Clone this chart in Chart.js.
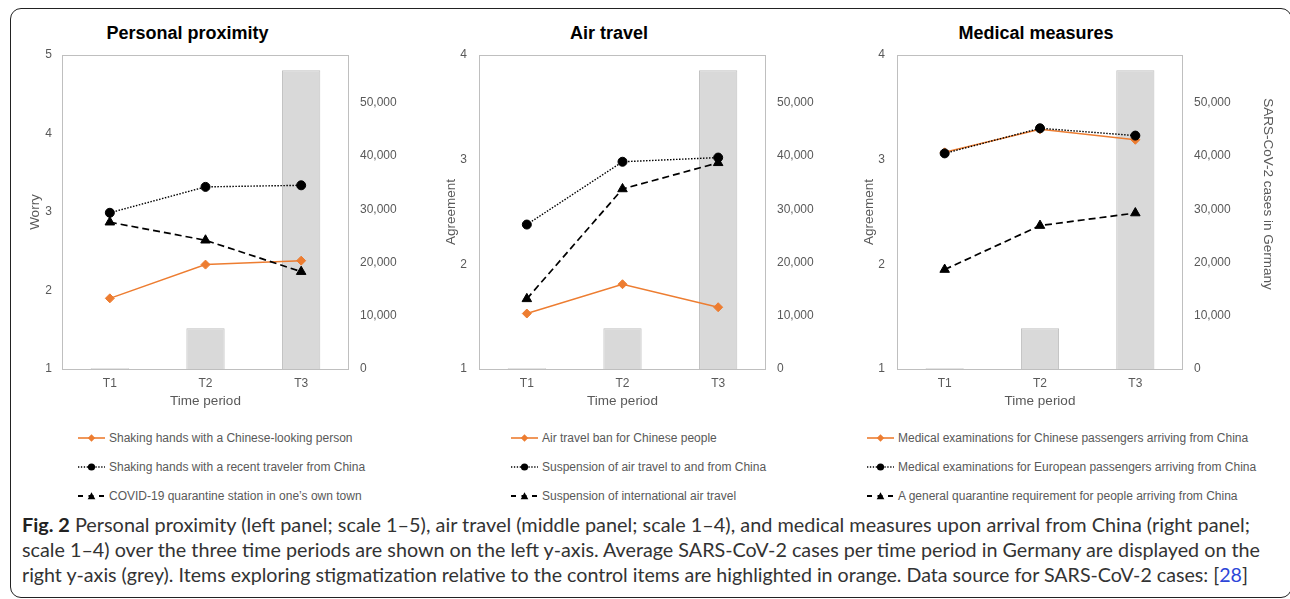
<!DOCTYPE html>
<html><head><meta charset="utf-8">
<script src="https://cdn.jsdelivr.net/npm/chart.js@4.4.0/dist/chart.umd.min.js"></script>
<style>
html,body{margin:0;padding:0;background:#fff;}
body{width:1290px;height:599px;position:relative;overflow:hidden;font-family:"Liberation Sans",Arial,sans-serif;}
#frame{position:absolute;left:10px;top:8px;width:1282px;height:590px;border:1.5px solid #222;border-radius:11px;box-sizing:border-box;}
.ptitle{position:absolute;top:21px;font-weight:bold;font-size:18px;line-height:24px;color:#000;transform:translateX(-50%);white-space:nowrap;}
canvas.cv{position:absolute;top:35px;}
.lrow{position:absolute;height:16px;line-height:16px;font-size:12px;color:#595959;white-space:nowrap;}
.lrow svg{position:absolute;left:0;top:3px;}
.lrow span{position:absolute;top:0;}
#y2title{position:absolute;left:1268px;top:194px;transform:translate(-50%,-50%);writing-mode:vertical-rl;font-size:13.5px;color:#595959;white-space:nowrap;}
.cap{position:absolute;left:22px;font-family:Lato,"Open Sans",sans-serif;font-size:19px;line-height:25px;color:#333;white-space:nowrap;transform-origin:0 50%;display:inline-block;}
.cap b{color:#222;}
.cap .ref{color:#2d46d8;}
</style></head>
<body>
<div id="frame"></div>
<div class="ptitle" style="left:187.5px">Personal proximity</div>
<div class="ptitle" style="left:609px">Air travel</div>
<div class="ptitle" style="left:1036px">Medical measures</div>
<canvas id="c1" class="cv" width="406" height="374" style="left:23px"></canvas>
<canvas id="c2" class="cv" width="407" height="374" style="left:439px"></canvas>
<canvas id="c3" class="cv" width="406" height="374" style="left:857px"></canvas>
<div id="y2title">SARS-CoV-2 cases in Germany</div>
<div id="legends"></div>
<div class="cap" style="top:512px" data-w="1228"><b>Fig. 2</b> Personal proximity (left panel; scale 1–5), air travel (middle panel; scale 1–4), and medical measures upon arrival from China (right panel;</div>
<div class="cap" style="top:537px" data-w="1238">scale 1–4) over the three time periods are shown on the left y-axis. Average SARS-CoV-2 cases per time period in Germany are displayed on the</div>
<div class="cap" style="top:562px" data-w="1226">right y-axis (grey). Items exploring stigmatization relative to the control items are highlighted in orange. Data source for SARS-CoV-2 cases: [<span class="ref">28</span>]</div>
<script>
// ---- data ----
const periods = ['T1', 'T2', 'T3'];
const cases = [120, 7640, 56150];
const caseTicks = [0, 10000, 20000, 30000, 40000, 50000];
const caseAxisMax = 59000;

const proximityLabels = ['Shaking hands with a Chinese-looking person', 'Shaking hands with a recent traveler from China', 'COVID-19 quarantine station in one\u2019s own town'];
const proximityStigma = [1.90, 2.33, 2.38];
const proximityTraveler = [2.99, 3.32, 3.34];
const proximityQuarantine = [2.87, 2.64, 2.24];

const airLabels = ['Air travel ban for Chinese people', 'Suspension of air travel to and from China', 'Suspension of international air travel'];
const airStigma = [1.53, 1.81, 1.59];
const airSuspendChina = [2.38, 2.98, 3.02];
const airSuspendIntl = [1.67, 2.72, 2.97];

const medicalLabels = ['Medical examinations for Chinese passengers arriving from China', 'Medical examinations for European passengers arriving from China', 'A general quarantine requirement for people arriving from China'];
const medicalChinese = [3.07, 3.29, 3.19];
const medicalEuropean = [3.06, 3.30, 3.23];
const medicalQuarantine = [1.95, 2.37, 2.49];

// ---- chart ----
const GREY = '#595959';
const ORANGE = '#ed7d31';

const framePlugin = {
  id: 'frame',
  beforeDatasetsDraw(chart) {
    const a = chart.chartArea, ctx = chart.ctx;
    ctx.save();
    ctx.strokeStyle = '#bfbfbf';
    ctx.lineWidth = 1;
    ctx.strokeRect(Math.round(a.left) + 0.5, Math.round(a.top) + 0.5, Math.round(a.right - a.left) - 1, Math.round(a.bottom - a.top));
    ctx.restore();
  }
};

function makeChart(id, labels, s1, s2, s3, yMax, yTitle, leftW, tickPad) {
  return new Chart(document.getElementById(id), {
    type: 'bar',
    data: {
      labels: periods,
      datasets: [
        { type: 'line', label: labels[0], data: s1, yAxisID: 'y', order: 3,
          borderColor: ORANGE, backgroundColor: ORANGE, borderWidth: 1.5,
          pointStyle: 'rectRot', pointRadius: 4.5, pointBorderWidth: 1, pointBorderColor: ORANGE, pointBackgroundColor: ORANGE },
        { type: 'line', label: labels[1], data: s2, yAxisID: 'y', order: 2,
          borderColor: '#000', backgroundColor: '#000', borderWidth: 1.4, borderDash: [1.5, 1.5],
          pointStyle: 'circle', pointRadius: 4.5, pointBorderWidth: 1, pointBorderColor: '#000', pointBackgroundColor: '#000' },
        { type: 'line', label: labels[2], data: s3, yAxisID: 'y', order: 1,
          borderColor: '#000', backgroundColor: '#000', borderWidth: 1.7, borderDash: [7, 4],
          pointStyle: 'triangle', pointRadius: 5.5, pointBorderWidth: 1, pointBorderColor: '#000', pointBackgroundColor: '#000' },
        { type: 'bar', label: 'SARS-CoV-2 cases in Germany', data: cases, yAxisID: 'y2', order: 10,
          backgroundColor: '#d9d9d9', borderColor: '#bfbfbf', borderWidth: 1,
          barPercentage: 0.4, categoryPercentage: 1 }
      ]
    },
    options: {
      responsive: false, animation: false, devicePixelRatio: 1,
      layout: { padding: { top: 20, bottom: 0, left: 0, right: 0 } },
      plugins: { legend: { display: false }, tooltip: { enabled: false }, title: { display: false } },
      scales: {
        x: {
          grid: { display: false, drawTicks: false }, border: { display: false },
          ticks: { color: GREY, font: { family: 'Liberation Sans', size: 12 }, padding: 7 },
          title: { display: true, text: 'Time period', color: GREY, font: { family: 'Liberation Sans', size: 13.5 }, padding: { top: 0, bottom: 0 } },
          afterFit(s) { s.height = 40; }
        },
        y: {
          position: 'left', min: 1, max: yMax,
          grid: { display: false, drawTicks: false }, border: { display: false },
          ticks: { stepSize: 1, color: GREY, font: { family: 'Liberation Sans', size: 12 }, padding: tickPad },
          title: { display: true, text: yTitle, color: GREY, font: { family: 'Liberation Sans', size: 13.5 }, padding: { top: 4, bottom: 0 } },
          afterFit(s) { s.width = leftW; }
        },
        y2: {
          position: 'right', min: 0, max: caseAxisMax,
          grid: { display: false, drawTicks: false }, border: { display: false },
          ticks: { color: GREY, font: { family: 'Liberation Sans', size: 12 }, padding: 11,
                   callback: v => Number(v).toLocaleString('en-US') },
          afterBuildTicks(s) { s.ticks = caseTicks.map(v => ({ value: v })); },
          afterFit(s) { s.width = 80; }
        }
      }
    },
    plugins: [framePlugin]
  });
}

makeChart('c1', proximityLabels, proximityStigma, proximityTraveler, proximityQuarantine, 5, 'Worry', 39, 10);
makeChart('c2', airLabels, airStigma, airSuspendChina, airSuspendIntl, 4, 'Agreement', 40, 12);
makeChart('c3', medicalLabels, medicalChinese, medicalEuropean, medicalQuarantine, 4, 'Agreement', 40, 12);

// ---- legends (HTML) ----
const legendCols = [
  { x: 78, labels: proximityLabels },
  { x: 511, labels: airLabels },
  { x: 867, labels: medicalLabels }
];
const rowY = [438, 467, 495.5];
function sample(i) {
  if (i === 0) {
    return `<svg width="28" height="10"><line x1="0" y1="5" x2="27" y2="5" stroke="${ORANGE}" stroke-width="1.6"/><polygon points="13.5,1.3 17.2,5 13.5,8.7 9.8,5" fill="${ORANGE}"/></svg>`;
  } else if (i === 1) {
    return `<svg width="28" height="10"><line x1="0" y1="5" x2="27" y2="5" stroke="#000" stroke-width="1.3" stroke-dasharray="1.3,1.6"/><circle cx="13.5" cy="5" r="3.6" fill="#000"/></svg>`;
  }
  return `<svg width="28" height="10"><line x1="0" y1="5" x2="27" y2="5" stroke="#000" stroke-width="1.8" stroke-dasharray="5,5.5"/><polygon points="13.5,1.2 17.3,8.3 9.7,8.3" fill="#000"/></svg>`;
}
const lg = document.getElementById('legends');
legendCols.forEach(col => {
  col.labels.forEach((lab, i) => {
    const d = document.createElement('div');
    d.className = 'lrow';
    d.style.left = col.x + 'px';
    d.style.top = (rowY[i] - 8) + 'px';
    d.innerHTML = sample(i) + `<span style="left:31px">${lab}</span>`;
    lg.appendChild(d);
  });
});

// ---- caption line fitting ----
document.querySelectorAll('.cap').forEach(el => {
  const target = +el.dataset.w;
  const w = el.getBoundingClientRect().width;
  el.style.transform = `scaleX(${target / w})`;
});
</script>
</body></html>
